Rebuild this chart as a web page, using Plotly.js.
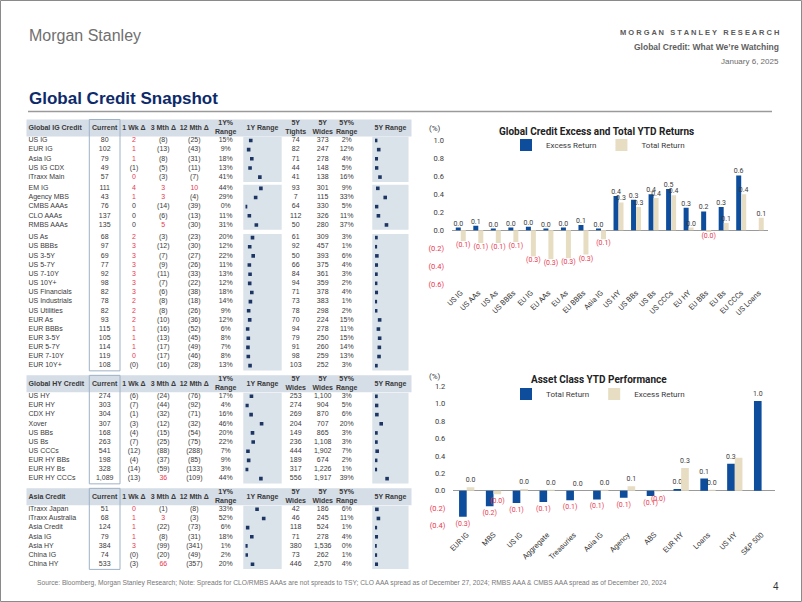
<!DOCTYPE html>
<html><head><meta charset="utf-8">
<script src="https://cdn.plot.ly/plotly-3.0.1.min.js"></script>
<style>html,body{margin:0;padding:0;background:#fff}#chart{width:802px;height:602px}</style>
</head><body><div id="chart"></div>
<script>
// ================= DATA =================
// Global IG Credit
const igNames = ['US IG','EUR IG','Asia IG','US IG CDX','iTraxx Main','EM IG','Agency MBS','CMBS AAAs','CLO AAAs','RMBS AAAs','US As','US BBBs','US 3-5Y','US 5-7Y','US 7-10Y','US 10Y+','US Financials','US Industrials','US Utilities','EUR As','EUR BBBs','EUR 3-5Y','EUR 5-7Y','EUR 7-10Y','EUR 10Y+'];
const igCurrent = [80,102,79,49,57,111,43,76,137,135,68,97,69,77,92,98,82,78,82,93,115,105,114,119,108];
const igWk = [2,1,1,-1,0.3,4,1,0,0,0,2,3,3,3,3,3,3,2,2,2,1,1,1,0.3,-0.3];
const igM3 = [-8,-13,-8,-5,-3,3,3,-14,-6,5,-3,-12,-7,-9,-11,-7,-6,-8,-8,-10,-16,-13,-17,-17,-16];
const igM12 = [-25,-43,-31,-11,-7,10,-4,-39,-13,-30,-23,-30,-27,-26,-33,-22,-38,-18,-26,-36,-52,-45,-49,-46,-28];
const ig1yPct = [15,9,18,13,41,44,29,0,11,31,20,12,22,11,13,12,18,14,9,12,6,8,7,8,13];
const ig5yTights = [74,82,71,44,41,93,7,64,112,50,61,92,50,66,84,94,71,73,78,70,94,79,91,98,103];
const ig5yWides = [373,247,278,148,138,301,115,330,326,280,309,457,393,375,361,359,378,383,298,224,278,250,260,259,252];
const ig5yPct = [2,12,4,5,16,9,33,5,11,37,3,1,6,4,3,2,4,1,2,15,11,15,14,13,3];

// Global HY Credit
const hyNames = ['US HY','EUR HY','CDX HY','Xover','US BBs','US Bs','US CCCs','EUR HY BBs','EUR HY Bs','EUR HY CCCs'];
const hyCurrent = [274,303,304,307,168,263,541,198,328,1089];
const hyWk = [-6,-7,-1,-3,-4,-7,-12,-4,-14,-13];
const hyM3 = [-24,-44,-32,-12,-15,-25,-88,-37,-59,36];
const hyM12 = [-76,-92,-71,-32,-54,-75,-288,-85,-133,-109];
const hy1yPct = [17,4,16,46,20,22,7,9,3,44];
const hy5yLow = [253,274,269,204,149,236,444,189,317,556];
const hy5yHigh = [1100,904,870,707,865,1108,1902,674,1226,1917];
const hy5yPct = [3,5,6,20,3,3,7,2,1,39];

// Asia Credit
const asNames = ['iTraxx Japan','iTraxx Australia','Asia Credit','Asia IG','Asia HY','China IG','China HY'];
const asCurrent = [51,68,124,79,384,74,533];
const asWk = [0.3,1,1,1,3,-0.3,-3];
const asM3 = [-1,3,-22,-8,-99,-20,66];
const asM12 = [-8,-3,-73,-31,-341,-49,-357];
const as1yPct = [33,52,6,18,1,2,20];
const as5yLow = [42,46,118,71,380,73,446];
const as5yHigh = [186,245,524,278,1536,262,2570];
const as5yPct = [6,11,1,4,0,1,4];

// Header labels
const igHeaders = ['Current','1 Wk Δ','3 Mth Δ','12 Mth Δ','1Y%<br>Range','1Y Range','5Y<br>Tights','5Y<br>Wides','5Y%<br>Range','5Y Range'];
const hyHeaders = ['Current','1 Wk Δ','3 Mth Δ','12 Mth Δ','1Y%<br>Range','1Y Range','5Y<br>Wides','5Y<br>Wides','5Y%<br>Range','5Y Range'];

// Chart 1: Global Credit Excess and Total YTD Returns
const cats1 = ['US IG','US AAs','US As','US BBBs','EU IG','EU AAs','EU As','EU BBBs','Asia IG','US HY','US BBs','US Bs','US CCCs','EU HY','EU BBs','EU Bs','EU CCCs','US Loans'];
const excess1 = [0.03,0.05,0.02,0.03,0.04,0.02,0.03,0.06,0.02,0.38,0.34,0.40,0.46,0.25,0.21,0.26,0.61,null];
const total1 = [-0.12,-0.14,-0.14,-0.13,-0.29,-0.32,-0.31,-0.27,-0.10,0.31,0.26,0.36,0.39,0.03,-0.02,0.08,0.40,0.14];

// Chart 2: Asset Class YTD Performance
const cats2 = ['EUR IG','MBS','US IG','Aggregate','Treasuries','Asia IG','Agency','ABS','EUR HY','Loans','US HY','S&P 500'];
const total2 = [-0.30,-0.18,-0.14,-0.13,-0.11,-0.10,-0.08,-0.06,0.02,0.14,0.31,1.03];
const excess2 = [0.04,-0.04,0.02,0.01,0.00,0.01,0.05,-0.01,0.26,0.01,0.38,null];
const excess2Unlabelled = ['US HY'];

// ================= STYLE / LAYOUT =================
const W = 802, H = 602;
const px = x => x / W, py = y => 1 - y / H;
const TF = 'Liberation Sans, Arial, sans-serif';
const CF = 'Roboto, Liberation Sans, sans-serif';
const INK = '#3a3a3a', RED = '#e8384f', NAVY = '#0d4d9c', BEIGE = '#e7ddc3';
const HEAD_BG = '#d5dde7', RANGE_BG = '#dae2ea', BOX = '#9fb2c6', MARK = '#1c3563';

const COL_LABEL = 28.5;
const COL_DATA = [104.7, 134, 163.3, 194.3, 225.7, 295.7, 322.7, 346.7];
const COL_HEAD = [104.7, 134, 163.3, 194.3, 225.7, 262.5, 295.7, 322.7, 346.7, 390.5];
const RANGE1 = [243.3, 281.7], RANGE5 = [372.3, 408.5], CURBOX = [89.3, 120], TABLE_X = [26.5, 411.5];
const ROW_H = 9.15, HEAD_H = 17, SECTION_GAP = 4.5, TABLE_TOP = 119.5;

const fmtInt = v => String(v).replace(/\B(?=(\d{3})+(?!\d))/g, ',');
const fmtChg = v => v < 0 ? '(' + Math.round(-v) + ')' : String(Math.round(v));
const fmtPct = v => v + '%';
const colChg = v => v > 0 ? RED : INK;
const FMTS = [fmtInt, fmtChg, fmtChg, fmtChg, fmtPct, fmtInt, fmtInt, fmtPct];
const COLORED = [false, true, true, true, false, false, false, false];

const sections = [
  {title: 'Global IG Credit', heads: igHeaders, names: igNames,
   cols: [igCurrent, igWk, igM3, igM12, ig1yPct, ig5yTights, ig5yWides, ig5yPct], groups: [5, 5, 15], gaps: [2.1, 3.5]},
  {title: 'Global HY Credit', heads: hyHeaders, names: hyNames,
   cols: [hyCurrent, hyWk, hyM3, hyM12, hy1yPct, hy5yLow, hy5yHigh, hy5yPct], groups: [10], gaps: []},
  {title: 'Asia Credit', heads: hyHeaders, names: asNames,
   cols: [asCurrent, asWk, asM3, asM12, as1yPct, as5yLow, as5yHigh, as5yPct], groups: [7], gaps: []}
];

const traces = [];
const shapes = [];
let cursor = TABLE_TOP;
sections.forEach(s => {
  s.headTop = cursor; s.headBot = cursor + HEAD_H;
  let y = s.headBot; s.rowY = []; s.spans = [];
  s.groups.forEach((n, g) => {
    if (g > 0) y += s.gaps[g - 1];
    const top = y;
    for (let i = 0; i < n; i++) { s.rowY.push(y + ROW_H / 2 - 0.6); y += ROW_H; }
    s.spans.push([top, y]);
  });
  s.bottom = y; cursor = y + SECTION_GAP;

  shapes.push({type: 'rect', xref: 'x3', yref: 'y3', x0: TABLE_X[0], x1: TABLE_X[1], y0: s.headTop, y1: s.headBot,
    fillcolor: HEAD_BG, line: {width: 0}, layer: 'below'});
  s.spans.forEach(sp => {
    [RANGE1, RANGE5].forEach(r => shapes.push({type: 'rect', xref: 'x3', yref: 'y3', x0: r[0], x1: r[1],
      y0: sp[0] + 0.3, y1: sp[1] - 0.3, fillcolor: RANGE_BG, line: {width: 0}, layer: 'below'}));
  });
  shapes.push({type: 'rect', xref: 'x3', yref: 'y3', x0: CURBOX[0], x1: CURBOX[1], y0: s.headTop, y1: s.bottom,
    fillcolor: 'rgba(0,0,0,0)', line: {color: BOX, width: 1}, layer: 'above'});

  const hy = (s.headTop + s.headBot) / 2;
  traces.push({type: 'scatter', mode: 'text', xaxis: 'x3', yaxis: 'y3', x: [COL_LABEL], y: [hy],
    text: ['<b>' + s.title + '</b>'], textposition: 'middle right',
    textfont: {family: TF, size: 7, color: INK}, hoverinfo: 'skip', showlegend: false});
  traces.push({type: 'scatter', mode: 'text', xaxis: 'x3', yaxis: 'y3', x: COL_HEAD, y: COL_HEAD.map(() => hy),
    text: s.heads.map(h => '<b>' + h + '</b>'), textposition: 'middle center',
    textfont: {family: TF, size: 7, color: INK}, hoverinfo: 'skip', showlegend: false});
  traces.push({type: 'scatter', mode: 'text', xaxis: 'x3', yaxis: 'y3', x: s.rowY.map(() => COL_LABEL), y: s.rowY,
    text: s.names, textposition: 'middle right',
    textfont: {family: TF, size: 7, color: INK}, hoverinfo: 'skip', showlegend: false});
  s.cols.forEach((vals, c) => {
    traces.push({type: 'scatter', mode: 'text', xaxis: 'x3', yaxis: 'y3', x: vals.map(() => COL_DATA[c]), y: s.rowY,
      text: vals.map(FMTS[c]), textposition: 'middle center',
      textfont: {family: TF, size: 7, color: COLORED[c] ? vals.map(colChg) : INK}, hoverinfo: 'skip', showlegend: false});
  });
  traces.push({type: 'scatter', mode: 'markers', xaxis: 'x4', yaxis: 'y3', x: s.cols[4], y: s.rowY,
    marker: {symbol: 'square', size: 3.6, color: MARK}, hoverinfo: 'skip', showlegend: false});
  traces.push({type: 'scatter', mode: 'markers', xaxis: 'x5', yaxis: 'y3', x: s.cols[7], y: s.rowY,
    marker: {symbol: 'square', size: 3.6, color: MARK}, hoverinfo: 'skip', showlegend: false});
});

// ---- bar charts ----
const retLabel = v => v == null ? '' : (v < 0 ? '(' + (-v).toFixed(1) + ')' : v.toFixed(1));
const retColor = v => (v != null && v < 0) ? RED : INK;
function barTrace(cats, vals, name, color, ax, legend, hidden) {
  return {type: 'bar', x: cats, y: vals, name: name, marker: {color: color}, xaxis: ax[0], yaxis: ax[1], legend: legend,
    text: vals.map((v, i) => (hidden && hidden.indexOf(cats[i]) >= 0) ? '' : retLabel(v)),
    textposition: 'outside', constraintext: 'none', cliponaxis: false,
    textfont: {family: CF, size: 7, color: vals.map(retColor)}, hoverinfo: 'skip'};
}
traces.push(barTrace(cats1, excess1, 'Excess Return', NAVY, ['x', 'y'], 'legend'));
traces.push(barTrace(cats1, total1, 'Total Return', BEIGE, ['x', 'y'], 'legend'));
traces.push(barTrace(cats2, total2, 'Total Return', NAVY, ['x2', 'y2'], 'legend2'));
traces.push(barTrace(cats2, excess2, 'Excess Return', BEIGE, ['x2', 'y2'], 'legend2', excess2Unlabelled));

const tickText = vals => vals.map(v => v < 0 ? '<span style="color:' + RED + '">(' + (-v).toFixed(1) + ')</span>' : v.toFixed(1));
const yt1 = [-0.6, -0.4, -0.2, 0, 0.2, 0.4, 0.6, 0.8, 1.0];
const yt2 = [-0.4, -0.2, 0, 0.2, 0.4, 0.6, 0.8, 1.0, 1.2];
const catAxis = (dom, anchor) => ({domain: dom, anchor: anchor, type: 'category', tickangle: -45, showgrid: false,
  showline: false, zeroline: false, ticks: '', tickfont: {family: CF, size: 7.5, color: INK}, fixedrange: true});
const valAxis = (dom, anchor, range, tv) => ({domain: dom, anchor: anchor, range: range, tickvals: tv, ticktext: tickText(tv),
  showgrid: false, showline: false, zeroline: true, zerolinecolor: '#9a9a9a', zerolinewidth: 1, ticks: '',
  ticklabelstandoff: 7, tickfont: {family: CF, size: 7.5, color: INK}, fixedrange: true});
const hidden = {visible: false, fixedrange: true, showgrid: false, zeroline: false};

const ann = (text, x, y, opt) => Object.assign({text: text, x: px(x), y: py(y), xref: 'paper', yref: 'paper',
  showarrow: false, xanchor: 'left', yanchor: 'middle'}, opt || {});
const msr = 'MORGAN STANLEY RESEARCH'.split(' ').map(w => w.split('').join(' ')).join('\u00a0\u00a0\u00a0');

const layout = {
  width: W, height: H, margin: {l: 0, r: 0, t: 0, b: 0, pad: 0}, autosize: false,
  paper_bgcolor: '#ffffff', plot_bgcolor: 'rgba(0,0,0,0)',
  barmode: 'group', bargap: 0.43, bargroupgap: 0, showlegend: true,
  font: {family: CF, color: INK},
  xaxis: catAxis([px(452), px(767.5)], 'y'),
  yaxis: valAxis([py(286), py(140)], 'x', [-(286 - 230.3) / 90, (230.3 - 140) / 90], yt1),
  xaxis2: catAxis([px(453.3), px(775)], 'y2'),
  yaxis2: valAxis([py(528), py(385)], 'x2', [-(528 - 490.7) / 87, (490.7 - 385) / 87], yt2),
  xaxis3: Object.assign({domain: [0, 1], range: [0, W], anchor: 'y3'}, hidden),
  yaxis3: Object.assign({domain: [0, 1], range: [H, 0], anchor: 'x3'}, hidden),
  xaxis4: Object.assign({domain: [px(245.5), px(280.5)], range: [0, 100], anchor: 'y3'}, hidden),
  xaxis5: Object.assign({domain: [px(375), px(406)], range: [0, 100], anchor: 'y3'}, hidden),
  legend: {x: px(598), y: py(145), xanchor: 'center', yanchor: 'middle', orientation: 'h', bgcolor: 'rgba(0,0,0,0)',
    font: {family: CF, size: 8, color: INK}, itemwidth: 30, traceorder: 'normal'},
  legend2: {x: px(598), y: py(394), xanchor: 'center', yanchor: 'middle', orientation: 'h', bgcolor: 'rgba(0,0,0,0)',
    font: {family: CF, size: 8, color: INK}, itemwidth: 30, traceorder: 'normal'},
  shapes: shapes.concat([
    {type: 'rect', xref: 'paper', yref: 'paper', x0: px(0.5), x1: px(801.5), y0: py(601.5), y1: py(0.5),
     line: {color: '#8a8a8a', width: 1}, fillcolor: 'rgba(0,0,0,0)'},
    {type: 'line', xref: 'paper', yref: 'paper', x0: px(28), x1: px(772), y0: py(111.5), y1: py(111.5),
     line: {color: '#9a9a9a', width: 1.5}}
  ]),
  annotations: [
    ann('Morgan Stanley', 27, 36, {font: {family: TF, size: 16, color: '#707070'}}),
    ann('<b>' + msr + '</b>', 781, 33, {xanchor: 'right', font: {family: TF, size: 7.5, color: '#5a5a5a'}}),
    ann('<b>Global Credit: What We\u2019re Watching</b>', 781, 47, {xanchor: 'right', font: {family: TF, size: 8.5, color: '#5f5f5f'}}),
    ann('January 6, 2025', 781, 61, {xanchor: 'right', font: {family: TF, size: 8, color: '#6a6a6a'}}),
    ann('<b>Global Credit Snapshot</b>', 27, 98, {font: {family: TF, size: 17, color: '#0d2a6b'}}),
    ann('<b>Global Credit Excess and Total YTD Returns</b>', 596, 131, {xanchor: 'center', font: {family: CF, size: 10, color: '#222'}}),
    ann('(%)', 435, 128, {xanchor: 'center', font: {family: CF, size: 8, color: INK}}),
    ann('<b>Asset Class YTD Performance</b>', 599, 379, {xanchor: 'center', font: {family: CF, size: 10, color: '#222'}}),
    ann('(%)', 435, 376, {xanchor: 'center', font: {family: CF, size: 8, color: INK}}),
    ann('Source: Bloomberg, Morgan Stanley Research; Note: Spreads for CLO/RMBS AAAs are not spreads to TSY; CLO AAA spread as of December 27, 2024; RMBS AAA & CMBS AAA spread as of December 20, 2024',
        35, 583, {font: {family: TF, size: 6.7, color: '#777'}}),
    ann('4', 781, 586, {xanchor: 'right', font: {family: TF, size: 10, color: '#333'}})
  ]
};

Plotly.newPlot('chart', traces, layout, {displayModeBar: false, staticPlot: true});
</script></body></html>
